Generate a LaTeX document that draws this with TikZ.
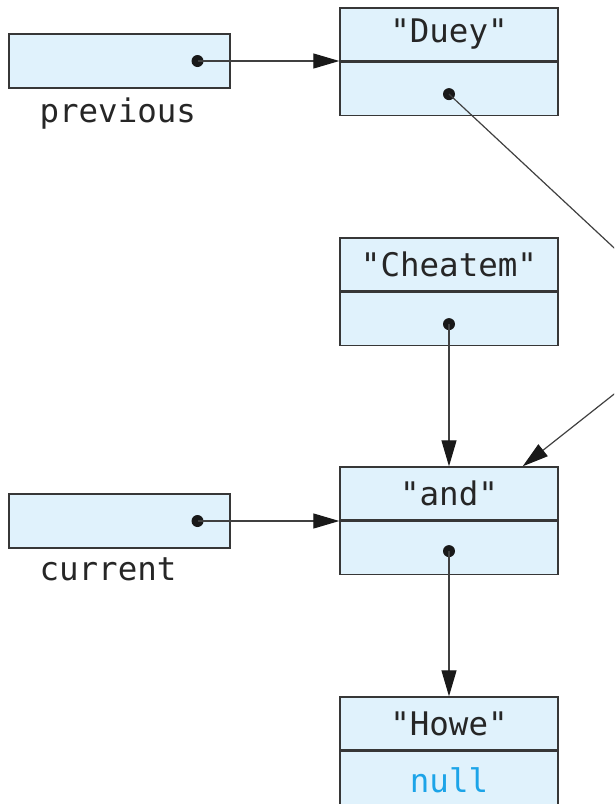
\documentclass[tikz,border=0pt]{standalone}
\usepackage{fontspec}
\setmonofont{DejaVu Sans Mono}
\usetikzlibrary{arrows.meta, positioning}

\definecolor{cellblue}{RGB}{224,242,252}
\definecolor{celledge}{RGB}{55,55,55}
\definecolor{nullblue}{RGB}{28,164,232}

\begin{document}
\begin{tikzpicture}[
    x=1pt, y=-1pt,
    cell/.style={rectangle, draw=celledge, line width=1.4pt, fill=cellblue, minimum width=218pt, minimum height=53pt, inner sep=0pt, text=black!85, font=\fontsize{32.5}{38}\selectfont\ttfamily},
    var/.style={cell, minimum width=221pt, minimum height=54pt},
    varname/.style={inner sep=0pt, text=black!85, font=\fontsize{32.5}{38}\selectfont\ttfamily},
    ptr/.style={circle, fill=black!90, inner sep=0pt, minimum size=12pt},
    arrow/.style={-{Triangle[length=26pt, width=15pt, fill=black!90, color=black!90]}, line width=1.2pt, draw=black!75}
]

\useasboundingbox (0,0) rectangle (614,804);
\clip (0,0) rectangle (614,804);

% Variables
\node[var] (previous) at (119.5,61) {};
\node[varname, below right=9pt and 31pt of previous.south west] (previous_label) {previous};
\node[var] (current) at (119.5,521) {};
\node[varname, below right=9pt and 31pt of current.south west] (current_label) {current};

% List cells
\node[cell] (duey) at (449,34.5) {"Duey"};
\node[cell, below=0pt of duey] (duey_next) {};
\node[cell] (cheatem) at (449,264.5) {"Cheatem"};
\node[cell, below=0pt of cheatem] (cheatem_next) {};
\node[cell] (and_cell) at (449,493.5) {"and"};
\node[cell, below=0pt of and_cell] (and_next) {};
\node[cell] (howe) at (449,723.5) {"Howe"};
\node[cell, below=0pt of howe, minimum height=58pt] (howe_next) {\textcolor{nullblue}{null}};

% Pointer dots
\node[ptr, left=27pt of previous.east] (previous_ptr) {};
\node[ptr, left=27pt of current.east] (current_ptr) {};
\node[ptr, below=-1pt of duey_next.center] (duey_ptr) {};
\node[ptr, below=-1pt of cheatem_next.center] (cheatem_ptr) {};
\node[ptr, below=-3pt of and_next.center] (and_ptr) {};

% Bend off the right edge
\coordinate (bend) at (699,327);

% Connections
\draw[arrow] (previous_ptr.center) -- (previous_ptr.center -| duey.west);
\draw[arrow] (current_ptr.center) -- (current_ptr.center -| and_cell.west);
\draw[arrow] (duey_ptr.center) -- (bend) -- ([xshift=-36pt]and_cell.north east);
\draw[arrow] (cheatem_ptr.center) -- (and_cell.north);
\draw[arrow] (and_ptr.center) -- (howe.north);

\end{tikzpicture}
\end{document}
